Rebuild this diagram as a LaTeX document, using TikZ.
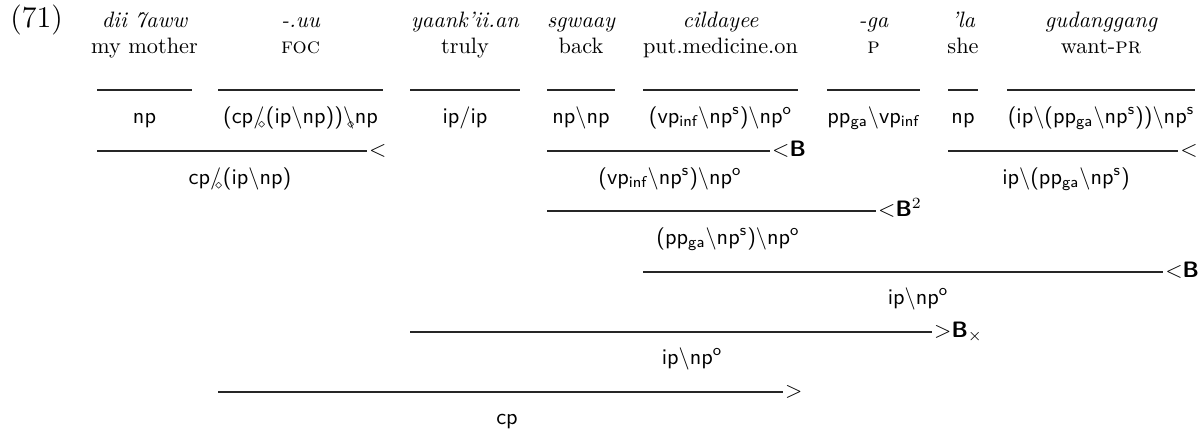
\documentclass[tikz,border=0pt]{standalone}
\usepackage{amsmath}

% category notation helpers
\newcommand{\bsl}{\ensuremath{\backslash}}
\newcommand{\fsd}{\textsf{/}\kern-0.30em\raisebox{-0.45ex}{$\scriptscriptstyle\diamond$}}
\newcommand{\bsd}{\ensuremath{\backslash}\kern-0.34em\raisebox{-0.45ex}{$\scriptscriptstyle\diamond$}}
\newcommand{\sub}[2]{\textsf{#1}\ensuremath{_{\textsf{#2}}}}
\newcommand{\sups}[2]{\textsf{#1}\ensuremath{^{\textsf{#2}}}}
\newcommand{\rB}{\textsf{\bfseries B}}

\begin{document}
\begin{tikzpicture}[x=0.4484pt,y=-0.4484pt,
  word/.style={anchor=base,inner sep=0pt,font=\itshape},
  gloss/.style={anchor=base,inner sep=0pt},
  cat/.style={anchor=base,inner sep=0pt,font=\sffamily},
  rule/.style={line width=0.55pt,draw=black!85},
  rlabel/.style={anchor=base west,inner sep=0pt,xshift=0.8pt}]
\useasboundingbox (0,0) rectangle (1200,433);

\node[anchor=base west,inner sep=0pt,font=\fontsize{13.5}{16}\selectfont] (num) at (10,28) {(71)};

% ---- lexical entries: word, gloss, rule, category ----
\node[word]  (w1) at (144.5,27) {dii 7aww};
\node[gloss] (g1) at (144.5,53) {my mother};
\coordinate (l1a) at (97,90);  \coordinate (l1b) at (192,90);
\draw[rule] (l1a) -- (l1b);
\node[cat]   (c1) at (144.5,123) {np};

\node[word]  (w2) at (300.5,27) {-.uu};
\node[gloss] (g2) at (300.5,53) {\textsc{foc}};
\coordinate (l2a) at (218,90); \coordinate (l2b) at (383,90);
\draw[rule] (l2a) -- (l2b);
\node[cat]   (c2) at (300.5,123) {(cp\fsd(ip\bsl np))\bsd np};

\node[word]  (w3) at (465,27) {yaank'ii.an};
\node[gloss] (g3) at (465,53) {truly};
\coordinate (l3a) at (410,90); \coordinate (l3b) at (520,90);
\draw[rule] (l3a) -- (l3b);
\node[cat]   (c3) at (465,123) {ip/ip};

\node[word]  (w4) at (581,27) {sgwaay};
\node[gloss] (g4) at (581,53) {back};
\coordinate (l4a) at (547,90); \coordinate (l4b) at (615,90);
\draw[rule] (l4a) -- (l4b);
\node[cat]   (c4) at (581,123) {np\bsl np};

\node[word]  (w5) at (720.5,27) {cildayee};
\node[gloss] (g5) at (720.5,53) {put.medicine.on};
\coordinate (l5a) at (643,90); \coordinate (l5b) at (798,90);
\draw[rule] (l5a) -- (l5b);
\node[cat]   (c5) at (720.5,123) {(\sub{vp}{inf}\bsl\sups{np}{s})\bsl\sups{np}{o}};

\node[word]  (w6) at (873.5,27) {-ga};
\node[gloss] (g6) at (873.5,53) {\textsc{p}};
\coordinate (l6a) at (827,90); \coordinate (l6b) at (920,90);
\draw[rule] (l6a) -- (l6b);
\node[cat]   (c6) at (873.5,123) {\sub{pp}{ga}\bsl\sub{vp}{inf}};

\node[word]  (w7) at (963,27) {'la};
\node[gloss] (g7) at (963,53) {she};
\coordinate (l7a) at (948,90); \coordinate (l7b) at (978,90);
\draw[rule] (l7a) -- (l7b);
\node[cat]   (c7) at (963,123) {np};

\node[word]  (w8) at (1101,27) {gudanggang};
\node[gloss] (g8) at (1101,53) {want-\textsc{pr}};
\coordinate (l8a) at (1007,90); \coordinate (l8b) at (1195,90);
\draw[rule] (l8a) -- (l8b);
\node[cat]   (c8) at (1101,123) {(ip\bsl(\sub{pp}{ga}\bsl\sups{np}{s}))\bsl\sups{np}{s}};

% ---- derivation steps ----
% step 1: backward application
\coordinate (d1a) at (97,151);  \coordinate (d1b) at (367,151);
\draw[rule] (d1a) -- (d1b);
\node[rlabel] (r1) at ([yshift=-2.5pt]d1b) {$<$};
\node[cat] (s1) at (240,184) {cp\fsd(ip\bsl np)};

% step 2: backward composition
\coordinate (d2a) at (547,151); \coordinate (d2b) at (770,151);
\draw[rule] (d2a) -- (d2b);
\node[rlabel] (r2) at ([yshift=-2.5pt]d2b) {$<$\rB};
\node[cat] (s2) at (670,184) {(\sub{vp}{inf}\bsl\sups{np}{s})\bsl\sups{np}{o}};

% step 3: backward application
\coordinate (d3a) at (948,151); \coordinate (d3b) at (1178,151);
\draw[rule] (d3a) -- (d3b);
\node[rlabel] (r3) at ([yshift=-2.5pt]d3b) {$<$};
\node[cat] (s3) at (1066,184) {ip\bsl(\sub{pp}{ga}\bsl\sups{np}{s})};

% step 4: second-order backward composition
\coordinate (d4a) at (547,211); \coordinate (d4b) at (876,211);
\draw[rule] (d4a) -- (d4b);
\node[rlabel] (r4) at ([yshift=-2.5pt]d4b) {$<$\rB$^2$};
\node[cat] (s4) at (728,244) {(\sub{pp}{ga}\bsl\sups{np}{s})\bsl\sups{np}{o}};

% step 5: backward composition
\coordinate (d5a) at (643,272); \coordinate (d5b) at (1163,272);
\draw[rule] (d5a) -- (d5b);
\node[rlabel] (r5) at ([yshift=-2.5pt]d5b) {$<$\rB};
\node[cat] (s5) at (918,304) {ip\bsl\sups{np}{o}};

% step 6: forward crossed composition
\coordinate (d6a) at (410,332); \coordinate (d6b) at (932,332);
\draw[rule] (d6a) -- (d6b);
\node[rlabel] (r6) at ([yshift=-2.5pt]d6b) {$>$\rB$_\times$};
\node[cat] (s6) at (692,364) {ip\bsl\sups{np}{o}};

% step 7: forward application
\coordinate (d7a) at (218,392); \coordinate (d7b) at (783,392);
\draw[rule] (d7a) -- (d7b);
\node[rlabel] (r7) at ([yshift=-2.5pt]d7b) {$>$};
\node[cat] (s7) at (507,424) {cp};
\end{tikzpicture}
\end{document}
